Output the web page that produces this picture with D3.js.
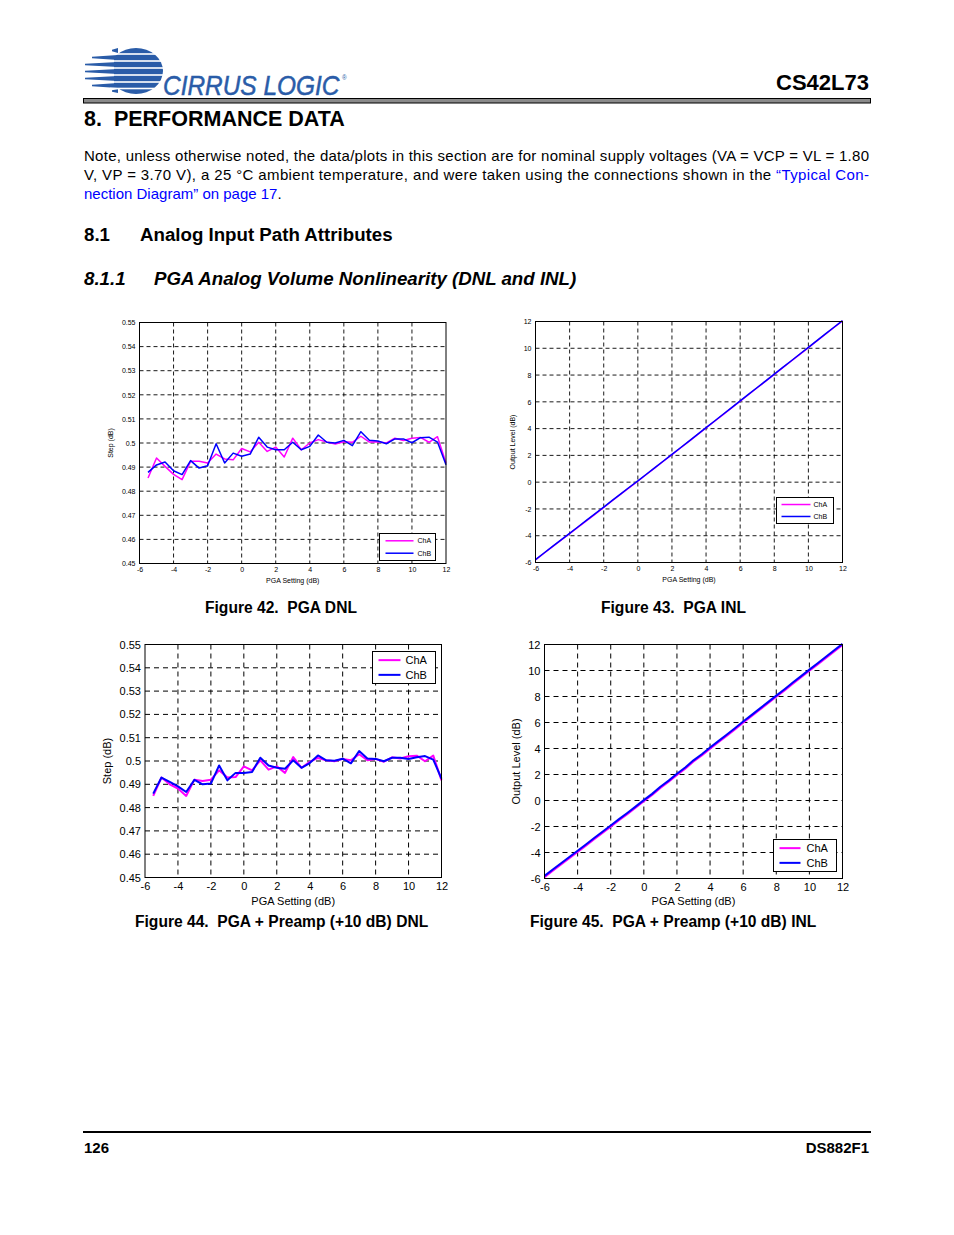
<!DOCTYPE html>
<html><head><meta charset="utf-8">
<script src="https://cdn.jsdelivr.net/npm/d3@7"></script>
<style>
html,body{margin:0;padding:0;background:#fff;}
svg{display:block;font-family:"Liberation Sans",Arial,sans-serif;}
text{white-space:pre;}
</style></head>
<body>
<svg id="page" width="954" height="1235"></svg>
<script>
// ---------- DATA ----------
const dnlX = [-5.5,-5,-4.5,-4,-3.5,-3,-2.5,-2,-1.5,-1,-0.5,0,0.5,1,1.5,2,2.5,3,3.5,4,4.5,5,5.5,6,6.5,7,7.5,8,8.5,9,9.5,10,10.5,11,11.5,12];
const dnlChA = [0.4855,0.4938,0.4903,0.4870,0.4848,0.4924,0.4924,0.4917,0.4954,0.4934,0.4930,0.4977,0.4963,0.5003,0.4965,0.4983,0.4942,0.5020,0.4972,0.5000,0.5014,0.5004,0.4996,0.5005,0.5003,0.5028,0.5004,0.5005,0.5000,0.5020,0.5010,0.5020,0.5023,0.5003,0.5026,0.4917];
const dnlChB = [0.4878,0.4909,0.4921,0.4885,0.4869,0.4927,0.4896,0.4906,0.4997,0.4917,0.4958,0.4945,0.4954,0.5024,0.4983,0.4972,0.4972,0.5003,0.4972,0.4986,0.5033,0.5003,0.5000,0.5011,0.4989,0.5047,0.5011,0.5008,0.4997,0.5017,0.5017,0.5001,0.5022,0.5024,0.5004,0.4910];
const preDnlChA = [0.4850,0.4929,0.4900,0.4882,0.4850,0.4920,0.4914,0.4920,0.4960,0.4929,0.4931,0.4977,0.4960,0.5003,0.4963,0.4977,0.4949,0.5017,0.4971,0.4996,0.5013,0.5003,0.4999,0.5009,0.5003,0.5029,0.5003,0.5009,0.4997,0.5016,0.5011,0.5020,0.5023,0.4999,0.5023,0.4917];
const preDnlChB = [0.4860,0.4929,0.4910,0.4891,0.4867,0.4919,0.4900,0.4903,0.4981,0.4917,0.4949,0.4949,0.4953,0.5014,0.4981,0.4971,0.4967,0.5003,0.4971,0.4991,0.5024,0.5003,0.5001,0.5010,0.4990,0.5043,0.5011,0.5009,0.4999,0.5014,0.5014,0.5009,0.5016,0.5021,0.5006,0.4924];

const inlX = [-6,-5.5,-5,-4.5,-4,-3.5,-3,-2.5,-2,-1.5,-1,-0.5,0,0.5,1,1.5,2,2.5,3,3.5,4,4.5,5,5.5,6,6.5,7,7.5,8,8.5,9,9.5,10,10.5,11,11.5,12];
const inlChA = [-5.80,-5.31,-4.82,-4.33,-3.84,-3.36,-2.87,-2.38,-1.89,-1.39,-0.90,-0.41,0.07,0.57,1.07,1.56,2.06,2.55,3.05,3.55,4.05,4.55,5.05,5.55,6.05,6.55,7.05,7.55,8.05,8.55,9.05,9.55,10.05,10.55,11.05,11.55,12.04];
const inlChB = [-5.78,-5.29,-4.80,-4.31,-3.82,-3.33,-2.84,-2.35,-1.86,-1.36,-0.87,-0.38,0.09,0.59,1.09,1.58,2.08,2.57,3.07,3.57,4.07,4.57,5.07,5.57,6.07,6.57,7.07,7.57,8.07,8.57,9.07,9.57,10.07,10.57,11.07,11.57,12.06];
const preInlChA = [-5.90,-5.41,-4.92,-4.43,-3.95,-3.47,-2.98,-2.49,-2.01,-1.52,-1.05,-0.56,-0.06,0.42,0.97,1.44,1.97,2.45,3.00,3.47,3.98,4.48,4.97,5.47,5.98,6.48,6.98,7.48,7.98,8.47,8.98,9.48,9.98,10.47,10.97,11.47,11.96];
const preInlChB = [-5.80,-5.31,-4.83,-4.34,-3.86,-3.38,-2.89,-2.40,-1.92,-1.43,-0.96,-0.47,0.03,0.51,1.06,1.53,2.06,2.54,3.09,3.56,4.07,4.57,5.06,5.56,6.07,6.57,7.07,7.57,8.07,8.56,9.07,9.57,10.07,10.56,11.06,11.56,12.05];

const xTicks = [-6,-4,-2,0,2,4,6,8,10,12];
const xTickLabels = ["-6","-4","-2","0","2","4","6","8","10","12"];
const dnlTicks = [0.45,0.46,0.47,0.48,0.49,0.5,0.51,0.52,0.53,0.54,0.55];
const dnlTickLabels = ["0.45","0.46","0.47","0.48","0.49","0.5","0.51","0.52","0.53","0.54","0.55"];
const inlTicks = [-6,-4,-2,0,2,4,6,8,10,12];
const inlTickLabels = ["-6","-4","-2","0","2","4","6","8","10","12"];
const seriesNames = ["ChA","ChB"];
const seriesColors = ["#ff00ff","#0000ff"];

// ---------- PAGE ----------
const svg = d3.select("#page");
const BLUE_LOGO = "#2a5ca8";

// logo
const logo = svg.append("g");
logo.append("ellipse").attr("cx",136).attr("cy",71).attr("rx",27).attr("ry",23).attr("fill",BLUE_LOGO);
logo.append("rect").attr("x",100).attr("y",44).attr("width",14).attr("height",56).attr("fill","#fff");
const stripes = [[48,53,112],[55,60,92],[62,67,85],[69,74,85],[76,81,85],[83,88,92],[89,93,112]];
stripes.forEach(s=>{
  logo.append("path").attr("fill",BLUE_LOGO)
    .attr("d",`M${s[2]},${(s[0]+s[1])/2-0.8} L118,${s[0]} L118,${s[1]} L${s[2]},${(s[0]+s[1])/2+0.8} Z`);
});
[54,61,68,75,82,88.5].forEach(y=>{
  logo.append("rect").attr("x",110).attr("y",y-0.8).attr("width",58).attr("height",1.6).attr("fill","#fff");
});
const lt = logo.append("text").attr("transform","translate(163,95) scale(0.905,1)").attr("font-size",27).attr("font-style","italic")
  .attr("fill",BLUE_LOGO).attr("stroke",BLUE_LOGO).attr("stroke-width",0.5);
lt.append("tspan").text("CIRRUS LOGIC");
lt.append("tspan").attr("font-size",7).attr("font-style","normal").attr("stroke","none").attr("dx",3).attr("dy",-15).text("®");

svg.append("text").attr("x",869).attr("y",90).attr("text-anchor","end").attr("font-size",22).attr("font-weight","bold").text("CS42L73");
svg.append("rect").attr("x",83.5).attr("y",98.5).attr("width",787).attr("height",4.5).attr("fill","#8a8a8a").attr("stroke","#000").attr("stroke-width",1);

svg.append("text").attr("x",84).attr("y",126).attr("font-size",21.5).attr("font-weight","bold").text("8.  PERFORMANCE DATA");

svg.append("text").attr("x",84).attr("y",161).attr("font-size",15).attr("textLength",785).attr("lengthAdjust","spacing")
  .text("Note, unless otherwise noted, the data/plots in this section are for nominal supply voltages (VA = VCP = VL = 1.80");
const l2 = svg.append("text").attr("x",84).attr("y",180).attr("font-size",15).attr("textLength",785).attr("lengthAdjust","spacing");
l2.append("tspan").text("V, VP = 3.70 V), a 25 °C ambient temperature, and were taken using the connections shown in the ");
l2.append("tspan").attr("fill","#0000ff").text("“Typical Con-");
const l3 = svg.append("text").attr("x",84).attr("y",199).attr("font-size",15);
l3.append("tspan").attr("fill","#0000ff").text("nection Diagram” on page 17");
l3.append("tspan").text(".");

svg.append("text").attr("x",84).attr("y",241).attr("font-size",18.7).attr("font-weight","bold").text("8.1");
svg.append("text").attr("x",140).attr("y",241).attr("font-size",18.7).attr("font-weight","bold").text("Analog Input Path Attributes");
svg.append("text").attr("x",84).attr("y",285).attr("font-size",18.7).attr("font-weight","bold").attr("font-style","italic").text("8.1.1");
svg.append("text").attr("x",154).attr("y",285).attr("font-size",18.7).attr("font-weight","bold").attr("font-style","italic").text("PGA Analog Volume Nonlinearity (DNL and INL)");

// captions
const caps = [[205,613,"Figure 42.  PGA DNL"],[601,613,"Figure 43.  PGA INL"],[135,927,"Figure 44.  PGA + Preamp (+10 dB) DNL"],[530,927,"Figure 45.  PGA + Preamp (+10 dB) INL"]];
caps.forEach(c=>svg.append("text").attr("x",c[0]).attr("y",c[1]).attr("font-size",15.6).attr("font-weight","bold").text(c[2]));

// footer
svg.append("line").attr("x1",83).attr("x2",871).attr("y1",1132).attr("y2",1132).attr("stroke","#000").attr("stroke-width",2);
svg.append("text").attr("x",84).attr("y",1153).attr("font-size",15).attr("font-weight","bold").attr("font-stretch","condensed").text("126");
svg.append("text").attr("x",869).attr("y",1153).attr("text-anchor","end").attr("font-size",15).attr("font-weight","bold").attr("font-stretch","condensed").text("DS882F1");

// ---------- CHART FUNCTION ----------
function chart(cfg){
  const g = svg.append("g");
  const x = d3.scaleLinear().domain([-6,12]).range([cfg.l,cfg.r]);
  const y = d3.scaleLinear().domain(cfg.yDomain).range([cfg.b,cfg.t]);
  const fs = cfg.fs;
  g.append("g").selectAll("line").data(xTicks.slice(1,-1)).join("line")
    .attr("x1",d=>x(d)).attr("x2",d=>x(d)).attr("y1",cfg.t).attr("y2",cfg.b)
    .attr("stroke","#000").attr("stroke-width",cfg.gw).attr("stroke-dasharray",cfg.dash);
  g.append("g").selectAll("line").data(cfg.yTicks.slice(1,-1)).join("line")
    .attr("x1",cfg.l).attr("x2",cfg.r).attr("y1",d=>y(d)).attr("y2",d=>y(d))
    .attr("stroke","#000").attr("stroke-width",cfg.gw).attr("stroke-dasharray",cfg.dash);
  const xa = g.append("g").attr("transform",`translate(0,${cfg.b})`)
    .call(d3.axisBottom(x).tickValues(xTicks).tickSize(0).tickPadding(cfg.xpad).tickFormat((d,i)=>xTickLabels[i]));
  const ya = g.append("g").attr("transform",`translate(${cfg.l},0)`)
    .call(d3.axisLeft(y).tickValues(cfg.yTicks).tickSize(0).tickPadding(cfg.ypad).tickFormat((d,i)=>cfg.yLabels[i]));
  [xa,ya].forEach(a=>{a.select(".domain").remove(); a.selectAll("text").attr("font-size",fs).attr("fill","#000").attr("font-family","Liberation Sans, Arial, sans-serif");});
  [cfg.a,cfg.bb].forEach((vals,i)=>{
    const line = d3.line().x((d,j)=>x(cfg.xs[j])).y(d=>y(d));
    g.append("path").datum(vals).attr("d",line).attr("fill","none")
      .attr("stroke",seriesColors[i]).attr("stroke-width",cfg.lw).attr("stroke-linejoin","round");
  });
  g.append("rect").attr("x",cfg.l).attr("y",cfg.t).attr("width",cfg.r-cfg.l).attr("height",cfg.b-cfg.t)
    .attr("fill","none").attr("stroke","#000").attr("stroke-width",1);
  g.append("text").attr("x",(cfg.l+cfg.r)/2).attr("y",cfg.xly).attr("text-anchor","middle").attr("font-size",cfg.lfs).text("PGA Setting (dB)");
  g.append("text").attr("transform",`translate(${cfg.ylx},${(cfg.t+cfg.b)/2}) rotate(-90)`).attr("text-anchor","middle").attr("font-size",cfg.lfs).text(cfg.yTitle);
  const L = cfg.leg;
  const lg = g.append("g");
  lg.append("rect").attr("x",L.x).attr("y",L.y).attr("width",L.w).attr("height",L.h).attr("fill","#fff").attr("stroke","#000").attr("stroke-width",1);
  seriesNames.forEach((n,i)=>{
    const yy = L.y + L.h*(0.27 + 0.46*i);
    lg.append("line").attr("x1",L.x+L.lx1).attr("x2",L.x+L.lx2).attr("y1",yy).attr("y2",yy).attr("stroke",seriesColors[i]).attr("stroke-width",cfg.lw);
    lg.append("text").attr("x",L.x+L.tx).attr("y",yy).attr("dy","0.35em").attr("font-size",L.fs).text(n);
  });
}

chart({l:139.5,r:446,t:322.5,b:563.5,yDomain:[0.45,0.55],yTicks:dnlTicks,yLabels:dnlTickLabels,fs:7,lfs:7,xpad:4,ypad:4,
  xs:dnlX,a:dnlChA,bb:dnlChB,lw:1.5,gw:0.9,dash:"4,3",xly:583,ylx:113,yTitle:"Step (dB)",
  leg:{x:379.5,y:533.5,w:56,h:27,lx1:6,lx2:34,tx:38,fs:7}});
chart({l:535.5,r:842.5,t:321.5,b:562.5,yDomain:[-6,12],yTicks:inlTicks,yLabels:inlTickLabels,fs:7,lfs:7,xpad:4,ypad:4,
  xs:inlX,a:inlChA,bb:inlChB,lw:1.5,gw:0.9,dash:"4,3",xly:582,ylx:515,yTitle:"Output Level (dB)",
  leg:{x:776.5,y:497.5,w:57,h:26,lx1:5,lx2:34,tx:37,fs:7}});
chart({l:145,r:441.5,t:644.5,b:877.5,yDomain:[0.45,0.55],yTicks:dnlTicks,yLabels:dnlTickLabels,fs:11,lfs:11,xpad:5,ypad:4,
  xs:dnlX,a:preDnlChA,bb:preDnlChB,lw:2,gw:1,dash:"5,4",xly:905,ylx:111,yTitle:"Step (dB)",
  leg:{x:372.5,y:651.5,w:63,h:32,lx1:6,lx2:28,tx:33,fs:11}});
chart({l:544.5,r:842.5,t:644.5,b:878.5,yDomain:[-6,12],yTicks:inlTicks,yLabels:inlTickLabels,fs:11,lfs:11,xpad:5,ypad:4,
  xs:inlX,a:preInlChA,bb:preInlChB,lw:2,gw:1,dash:"5,4",xly:905,ylx:520,yTitle:"Output Level (dB)",
  leg:{x:773.5,y:839.5,w:63,h:32,lx1:6,lx2:27,tx:33,fs:11}});
</script>
</body></html>
